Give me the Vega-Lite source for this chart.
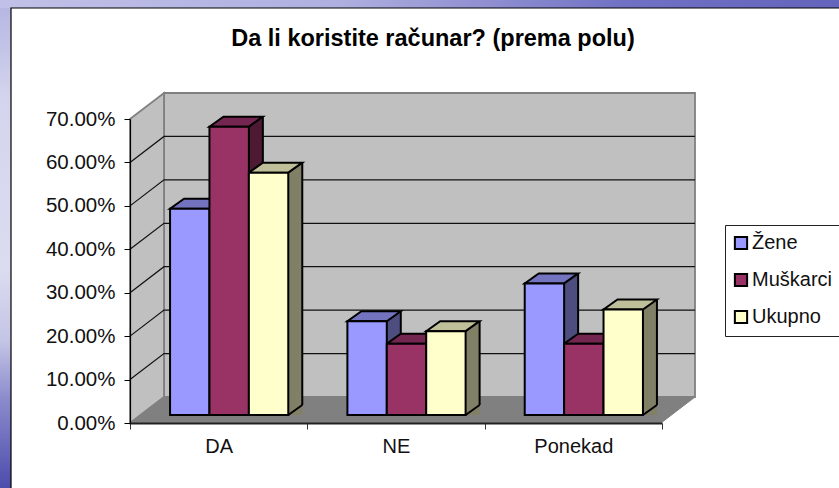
{
"$schema":"https://vega.github.io/schema/vega-lite/v6.json",
"width":532,"height":304,
"autosize":{"type":"none"},
"padding":{"left":130,"top":119,"right":177,"bottom":65},
"background":"#ffffff",
"config":{"view":{"stroke":null},"font":"Liberation Sans"},
"title":{"text":"Da li koristite računar? (prema polu)","font":"Liberation Sans","fontSize":23.5,"fontWeight":"bold","color":"#000000","anchor":"middle","dx":37,"offset":-50},
"datasets":{
"odgovori":[
{"odgovor":"DA","pol":"Žene","udeo":0.475},
{"odgovor":"DA","pol":"Muškarci","udeo":0.664},
{"odgovor":"DA","pol":"Ukupno","udeo":0.558},
{"odgovor":"NE","pol":"Žene","udeo":0.216},
{"odgovor":"NE","pol":"Muškarci","udeo":0.164},
{"odgovor":"NE","pol":"Ukupno","udeo":0.193},
{"odgovor":"Ponekad","pol":"Žene","udeo":0.303},
{"odgovor":"Ponekad","pol":"Muškarci","udeo":0.164},
{"odgovor":"Ponekad","pol":"Ukupno","udeo":0.243}],
"podeoci":[{"v":0.1},{"v":0.2},{"v":0.3},{"v":0.4},{"v":0.5},{"v":0.6}],
"okvir":[{"deo":"okvir"}]
},
"resolve":{"scale":{"fill":"independent","xOffset":"independent"}},
"layer":[
{"data":{"name":"okvir"},"mark":{"type":"point","filled":true,"size":4,"opacity":1,"shape":"M-130,-119 L-119,-119 L-119,369 L-130,369 Z","fill":{"gradient":"linear","x1":0,"y1":0,"x2":0,"y2":1,"stops":[{"offset":0,"color":"#b4b4e2"},{"offset":0.2,"color":"#d4d4ee"},{"offset":0.55,"color":"#dcdcf0"},{"offset":0.7,"color":"#c4c4e6"},{"offset":0.82,"color":"#8a8acc"},{"offset":1,"color":"#4c4cac"}]}},
"encoding":{"x":{"datum":"DA","type":"nominal","bandPosition":0},"y":{"datum":0.7,"type":"quantitative"}}},
{"data":{"name":"okvir"},"mark":{"type":"point","filled":true,"size":4,"opacity":1,"shape":"M-130,-119 L709,-119 L709,-111 L-130,-111 Z","fill":{"gradient":"linear","x1":0,"y1":0,"x2":1,"y2":0,"stops":[{"offset":0,"color":"#c0c0e8"},{"offset":0.4,"color":"#b0b0e0"},{"offset":0.75,"color":"#7070c4"},{"offset":1,"color":"#6464bc"}]}},
"encoding":{"x":{"datum":"DA","type":"nominal","bandPosition":0},"y":{"datum":0.7,"type":"quantitative"}}},
{"data":{"name":"okvir"},"mark":{"type":"point","filled":false,"size":4,"opacity":1,"stroke":"#000000","strokeWidth":1.2,"shape":"M-119,369 L-119,-111 L709,-111"},
"encoding":{"x":{"datum":"DA","type":"nominal","bandPosition":0},"y":{"datum":0.7,"type":"quantitative"}}},
{"data":{"name":"okvir"},"mark":{"type":"point","filled":true,"size":4,"opacity":1,"fill":"#c0c0c0","stroke":"#808080","strokeWidth":1.8,"shape":"M34,-26 L565,-26 L565,278 L34,278 Z"},
"encoding":{"x":{"datum":"DA","type":"nominal","bandPosition":0},"y":{"datum":0.7,"type":"quantitative"}}},
{"data":{"name":"okvir"},"mark":{"type":"point","filled":true,"size":4,"opacity":1,"fill":"#c0c0c0","stroke":"#808080","strokeWidth":1.8,"shape":"M0,0 L34,-26 L34,278 L0,304 Z"},
"encoding":{"x":{"datum":"DA","type":"nominal","bandPosition":0},"y":{"datum":0.7,"type":"quantitative"}}},
{"data":{"name":"okvir"},"mark":{"type":"point","filled":true,"size":4,"opacity":1,"fill":"#808080","stroke":"#808080","strokeWidth":1,"shape":"M0,0 L34,-26 L565,-26 L531,0 Z"},
"encoding":{"x":{"datum":"DA","type":"nominal","bandPosition":0},"y":{"datum":0,"type":"quantitative"}}},
{"data":{"name":"podeoci"},"mark":{"type":"point","filled":false,"size":4,"opacity":1,"stroke":"#111111","strokeWidth":1.2,"shape":"M0,0 L34,-26 L565,-26"},
"encoding":{"x":{"datum":"DA","type":"nominal","bandPosition":0},"y":{"field":"v","type":"quantitative"}}},

{"data":{"name":"odgovori"},"mark":{"type":"bar","width":14,"yOffset":-8,"y2Offset":-18},
"encoding":{"x":{"field":"odgovor","type":"nominal"},"xOffset":{"field":"pol","type":"nominal","scale":{"type":"band","domain":["Žene","Muškarci","Ukupno"],"paddingOuter":0.75,"paddingInner":0,"range":[37.2,214.53]}},"y":{"field":"udeo","type":"quantitative"},
"fill":{"field":"pol","type":"nominal","legend":null,"scale":{"domain":["Žene","Muškarci","Ukupno"],"range":["#4d4d80","#4d1933","#808066"]}}}},
{"data":{"name":"odgovori"},"mark":{"type":"point","filled":true,"size":4,"opacity":1,"yOffset":-8,"shape":"M19.7,0 L33.7,-10 L33.7,1 L19.7,1 Z"},
"encoding":{"x":{"field":"odgovor","type":"nominal"},"xOffset":{"field":"pol","type":"nominal","scale":{"type":"band","domain":["Žene","Muškarci","Ukupno"],"paddingOuter":0.75,"paddingInner":0,"range":[10.5,187.83]}},"y":{"field":"udeo","type":"quantitative"},
"fill":{"field":"pol","type":"nominal","legend":null,"scale":{"domain":["Žene","Muškarci","Ukupno"],"range":["#4d4d80","#4d1933","#808066"]}}}},
{"data":{"name":"odgovori"},"mark":{"type":"point","filled":true,"size":4,"opacity":1,"yOffset":-8,"shape":"M19.7,0 L33.7,-10 L33.7,-11 L19.7,-11 Z"},
"encoding":{"x":{"field":"odgovor","type":"nominal"},"xOffset":{"field":"pol","type":"nominal","scale":{"type":"band","domain":["Žene","Muškarci","Ukupno"],"paddingOuter":0.75,"paddingInner":0,"range":[10.5,187.83]}},"y":{"datum":0,"type":"quantitative"},
"fill":{"field":"pol","type":"nominal","legend":null,"scale":{"domain":["Žene","Muškarci","Ukupno"],"range":["#4d4d80","#4d1933","#808066"]}}}},
{"data":{"name":"odgovori"},"mark":{"type":"rule","color":"#000000","strokeWidth":2,"yOffset":-18,"y2Offset":-18},
"encoding":{"x":{"field":"odgovor","type":"nominal"},"xOffset":{"field":"pol","type":"nominal","scale":{"type":"band","domain":["Žene","Muškarci","Ukupno"],"paddingOuter":0.75,"paddingInner":0,"range":[44.2,221.53]}},"y":{"field":"udeo","type":"quantitative"},"y2":{"datum":0}}},
{"data":{"name":"odgovori"},"mark":{"type":"point","filled":false,"size":4,"opacity":1,"stroke":"#000000","strokeWidth":2,"yOffset":-8,"shape":"M19.7,0 L33.7,-10"},
"encoding":{"x":{"field":"odgovor","type":"nominal"},"xOffset":{"field":"pol","type":"nominal","scale":{"type":"band","domain":["Žene","Muškarci","Ukupno"],"paddingOuter":0.75,"paddingInner":0,"range":[10.5,187.83]}},"y":{"datum":0,"type":"quantitative"}}},
{"data":{"name":"odgovori"},"mark":{"type":"point","filled":true,"size":4,"opacity":1,"stroke":"#000000","strokeWidth":2,"yOffset":-8,"shape":"M-19.7,0 L19.7,0 L33.7,-10 L-5.7,-10 Z"},
"encoding":{"x":{"field":"odgovor","type":"nominal"},"xOffset":{"field":"pol","type":"nominal","scale":{"type":"band","domain":["Žene","Muškarci","Ukupno"],"paddingOuter":0.75,"paddingInner":0,"range":[10.5,187.83]}},"y":{"field":"udeo","type":"quantitative"},
"fill":{"field":"pol","type":"nominal","legend":null,"scale":{"domain":["Žene","Muškarci","Ukupno"],"range":["#7373bf","#732650","#bfbf99"]}}}},
{"data":{"name":"odgovori"},"mark":{"type":"bar","stroke":"#000000","strokeWidth":2,"yOffset":-8,"y2Offset":-8},
"encoding":{"x":{"field":"odgovor","type":"nominal","title":null,"scale":{"domain":["DA","NE","Ponekad"],"paddingInner":0,"paddingOuter":0},
"axis":{"labelAngle":0,"labelAlign":"center","labelFontSize":20,"labelColor":"#111111","labelFont":"Liberation Sans","labelPadding":17,"domainColor":"#222222","domainWidth":2,"tickColor":"#333333","tickSize":6,"tickWidth":1,"tickBand":"extent","zindex":1}},
"xOffset":{"field":"pol","type":"nominal","scale":{"type":"band","domain":["Žene","Muškarci","Ukupno"],"paddingOuter":0.75,"paddingInner":0,"range":[10.5,187.83]}},
"y":{"field":"udeo","type":"quantitative","title":null,"scale":{"domain":[0,0.7],"nice":false},
"axis":{"format":".2%","values":[0,0.1,0.2,0.3,0.4,0.5,0.6,0.7],"grid":false,"labelFontSize":20.5,"labelColor":"#111111","labelFont":"Liberation Sans","labelPadding":9,"domainColor":"#000000","domainWidth":1.2,"tickColor":"#000000","tickSize":6,"tickWidth":1,"zindex":1}},
"fill":{"field":"pol","type":"nominal","title":null,"scale":{"domain":["Žene","Muškarci","Ukupno"],"range":["#9999ff","#993366","#ffffcc"]},
"legend":{"orient":"none","legendX":595,"legendY":106,"padding":8,"rowPadding":15,"symbolOffset":-2,"labelOffset":1,"labelFontSize":20,"labelFont":"Liberation Sans","labelColor":"#111111","labelLimit":300,"symbolType":"square","symbolSize":150,"symbolStrokeColor":"#000000","symbolStrokeWidth":2,"strokeColor":"#222222","fillColor":"#ffffff"}}}}
]
}
